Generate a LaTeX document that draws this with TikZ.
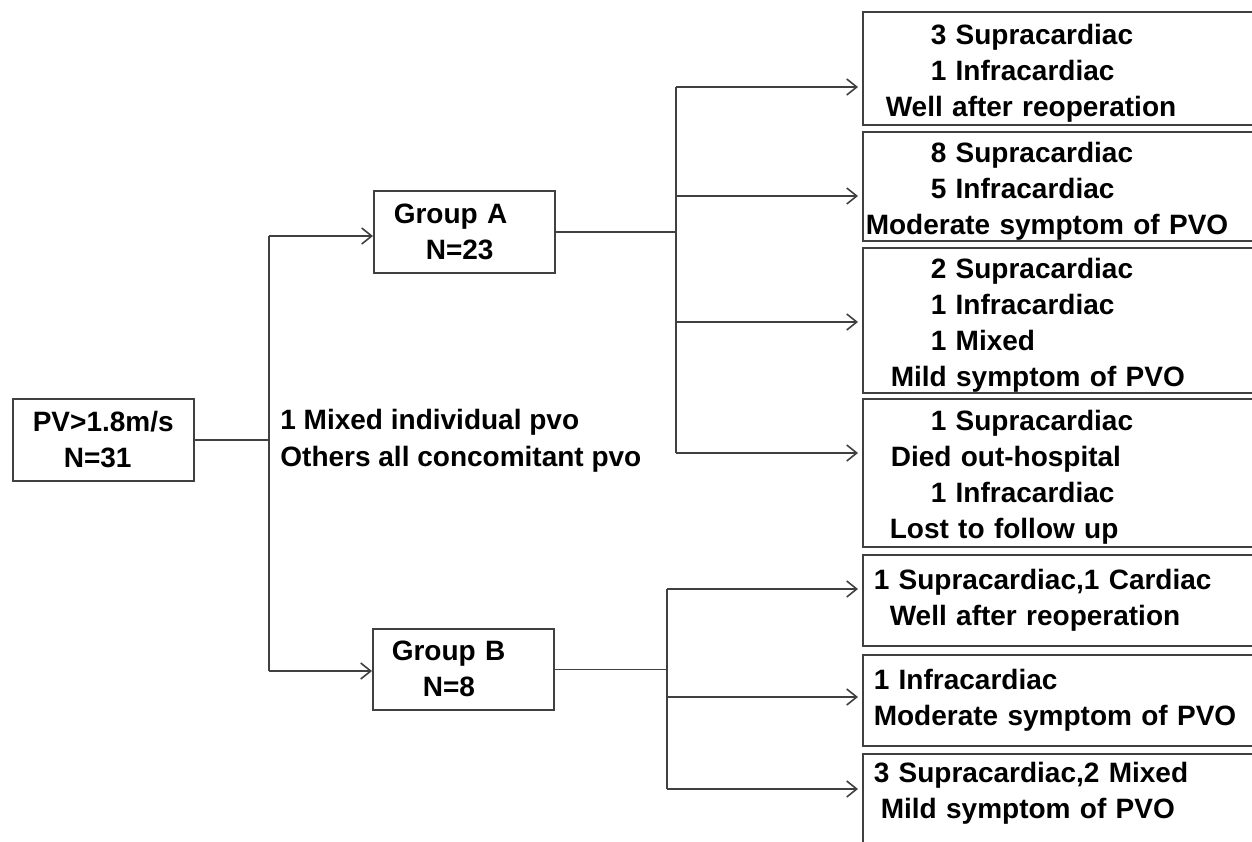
\documentclass[tikz,border=0pt]{standalone}
\usepackage{fontspec}
\setmainfont{Liberation Sans}
\usepackage{tikz}
\usetikzlibrary{arrows.meta}
\newcommand{\padtop}{\rule{0pt}{15pt}}

\begin{document}
\begin{tikzpicture}[x=0.5pt,y=-0.5pt,>={Straight Barb[length=5pt,width=8pt]},
  box/.style={draw=black!75, line width=0.8pt, rectangle, inner sep=0pt, align=left,
    font=\fontsize{14pt}{18pt}\selectfont\bfseries},
  grpbox/.style={box, anchor=north west, text width=90.5pt, minimum height=41pt},
  outbox/.style={box, anchor=north west, text width=204pt},
  link/.style={draw=black!75, line width=0.8pt}]

\useasboundingbox (0,0) rectangle (1252,841);
\clip (0,0) rectangle (1252,841);

% Draw start and group boxes
\node[grpbox] (pv) at (12,398) {\hspace*{10pt}PV>1.8m/s\\\hspace*{25.5pt}N=31};
\node[grpbox] (grpA) at (373,190) {\hspace*{10pt}Group A\\\hspace*{26pt}N=23};
\node[grpbox, minimum height=40.5pt] (grpB) at (372,628) {\hspace*{9.5pt}Group B\\\hspace*{25pt}N=8};

% Note between the groups
\node[align=left, anchor=west, inner sep=0pt, font=\fontsize{14pt}{18.5pt}\selectfont\bfseries] (note) at (280,441)
  {1 Mixed individual pvo\\Others all concomitant pvo};

% Draw outcome boxes of group A
\node[outbox, minimum height=56.5pt] (o1) at (862,11)
  {\padtop\hspace*{34pt}3 Supracardiac\\\hspace*{34pt}1 Infracardiac\\\hspace*{11.5pt}Well after reoperation};
\node[outbox, minimum height=54.5pt] (o2) at (862,131)
  {\padtop\hspace*{34pt}8 Supracardiac\\\hspace*{34pt}5 Infracardiac\\\hspace*{1.5pt}Moderate symptom of PVO};
\node[outbox, minimum height=72.5pt] (o3) at (862,247)
  {\padtop\hspace*{34pt}2 Supracardiac\\\hspace*{34pt}1 Infracardiac\\\hspace*{34pt}1 Mixed\\\hspace*{14pt}Mild symptom of PVO};
\node[outbox, minimum height=74pt] (o4) at (862,398)
  {\padtop\hspace*{34pt}1 Supracardiac\\\hspace*{14pt}Died out-hospital\\\hspace*{34pt}1 Infracardiac\\\hspace*{13.5pt}Lost to follow up};

% Draw outcome boxes of group B
\node[outbox, minimum height=45.5pt] (o5) at (862,554)
  {\hspace*{5.5pt}1 Supracardiac,1 Cardiac\\\hspace*{13.5pt}Well after reoperation};
\node[outbox, minimum height=45.5pt] (o6) at (862,654)
  {\hspace*{5.5pt}1 Infracardiac\\\hspace*{5.5pt}Moderate symptom of PVO};
\node[outbox, minimum height=55pt] (o7) at (862,753)
  {\hspace*{5.5pt}3 Supracardiac,2 Mixed\\\hspace*{9pt}Mild symptom of PVO\\\mbox{}};

% Links from PV box to the groups
\coordinate (forkA) at (269,236);
\coordinate (forkB) at (269,671);
\draw[link] (pv.east) -- (pv.east -| forkA);
\draw[link] (forkA) -- (forkB);
\draw[link,->] (forkA) -- (forkA -| grpA.west);
\draw[link,->] (forkB) -- (forkB -| grpB.west);

% Links from group A
\coordinate (topA) at (676,87);
\coordinate (botA) at (676,453);
\draw[link] (grpA.east) -- (grpA.east -| topA);
\draw[link] (topA) -- (botA);
\foreach \y/\b in {87/o1,196/o2,322/o3,453/o4} {
  \coordinate (s\b) at (676,\y);
  \draw[link,->,shorten >=2pt] (s\b) -- (s\b -| \b.west);
}

% Links from group B
\coordinate (topB) at (667,589);
\coordinate (botB) at (667,789);
\draw[link] (grpB.east) -- (grpB.east -| topB);
\draw[link] (topB) -- (botB);
\foreach \y/\b in {589/o5,697/o6,789/o7} {
  \coordinate (s\b) at (667,\y);
  \draw[link,->,shorten >=2pt] (s\b) -- (s\b -| \b.west);
}

\end{tikzpicture}
\end{document}
